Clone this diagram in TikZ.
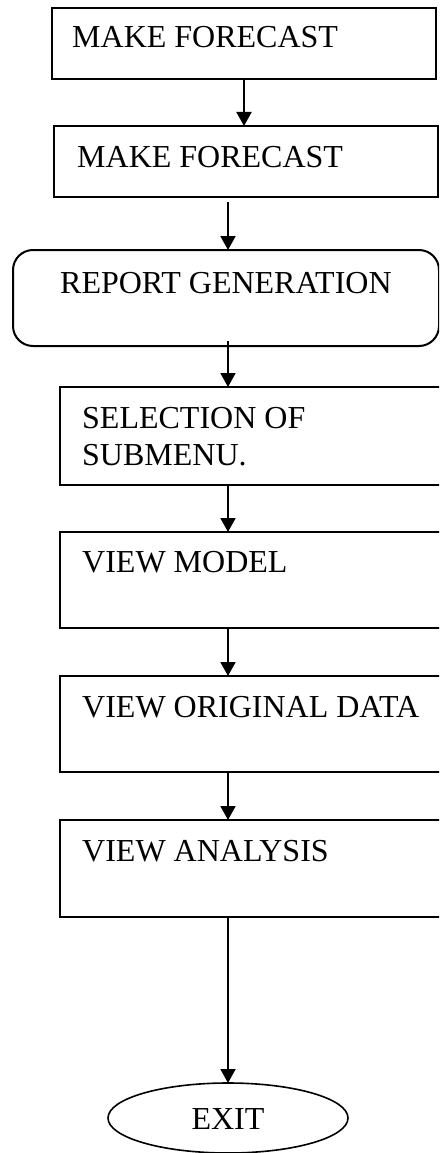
\documentclass[tikz,border=0pt]{standalone}
\usepackage{fontspec}
\setmainfont{Liberation Serif}
\usetikzlibrary{arrows.meta,shapes.geometric}
\begin{document}
\begin{tikzpicture}[x=1pt,y=-1pt,
  box/.style={draw,line width=2pt,rectangle,inner sep=0pt},
  rbox/.style={box,rounded corners=20pt},
  oval/.style={draw,line width=1.6pt,ellipse,inner sep=0pt,minimum width=240pt,minimum height=70pt},
  lbl/.style={anchor=base west,inner sep=0pt,font=\fontsize{32}{37}\selectfont},
  arr/.style={line width=2pt,-{Triangle[width=15pt,length=14pt]}}]
\useasboundingbox (0,0) rectangle (439,1153);
\clip (0,0) rectangle (439,1153);
\node[box,minimum width=384pt,minimum height=71pt] (b1) at (244,43.5) {};
\node[box,minimum width=384pt,minimum height=71pt] (b2) at (245.5,161.5) {};
\node[rbox,minimum width=426pt,minimum height=96pt] (b3) at (226,298) {};
\node[box,minimum width=390pt,minimum height=98pt] (b4) at (255,436) {};
\node[box,minimum width=390pt,minimum height=96pt] (b5) at (255,580) {};
\node[box,minimum width=390pt,minimum height=96pt] (b6) at (255,724) {};
\node[box,minimum width=390pt,minimum height=97pt] (b7) at (255,868.5) {};
\node[oval] (ex) at (228,1118) {};
\node[lbl] (t1) at (72,48) {MAKE FORECAST};
\node[lbl] (t2) at (77,167) {MAKE FORECAST};
\node[lbl] (t3) at (60,293) {REPORT GENERATION};
\node[lbl,align=left] (t4) at (82,428) {SELECTION OF};
\node[lbl] (t4b) at (82,465) {SUBMENU.};
\node[lbl] (t5) at (82,572) {VIEW MODEL};
\node[lbl] (t6) at (82,717) {VIEW ORIGINAL DATA};
\node[lbl] (t7) at (82,861) {VIEW ANALYSIS};
\node[anchor=base,inner sep=0pt,font=\fontsize{32}{37}\selectfont] (t8) at (228,1129) {EXIT};
\coordinate (s1) at (244,79);
\coordinate (e1) at (244,126);
\coordinate (s2) at (228,202);
\coordinate (e2) at (228,250);
\coordinate (s3) at (228,341);
\coordinate (e3) at (228,387);
\coordinate (s4) at (228,485);
\coordinate (e4) at (228,532);
\coordinate (s5) at (228,628);
\coordinate (e5) at (228,676);
\coordinate (s6) at (228,772);
\coordinate (e6) at (228,820);
\coordinate (s7) at (228,917);
\coordinate (e7) at (228,1083);
\draw[arr] (s1) -- (e1);
\draw[arr] (s2) -- (e2);
\draw[arr] (s3) -- (e3);
\draw[arr] (s4) -- (e4);
\draw[arr] (s5) -- (e5);
\draw[arr] (s6) -- (e6);
\draw[arr] (s7) -- (e7);
\end{tikzpicture}
\end{document}
